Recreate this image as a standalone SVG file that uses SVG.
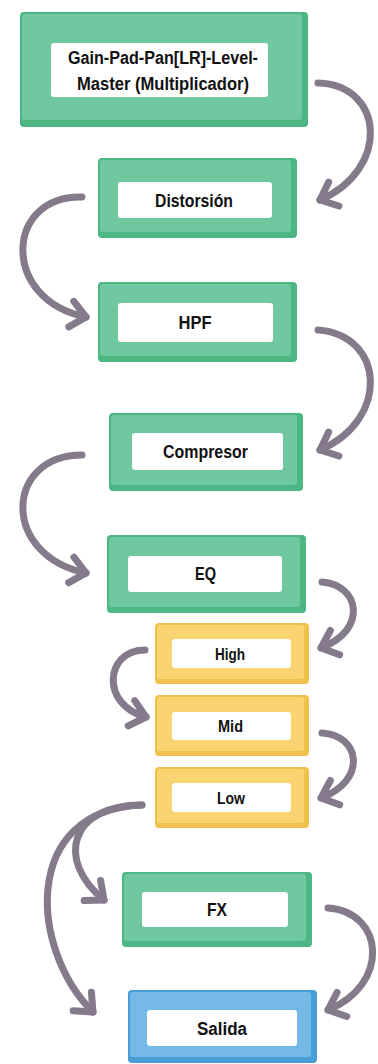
<svg xmlns="http://www.w3.org/2000/svg" width="378" height="1064" viewBox="0 0 378 1064">
<style>
.g0{fill:#4db783}.g1{fill:#6fc8a0}
.y0{fill:#efc04c}.y1{fill:#f9d470}
.b0{fill:#4a9ed8}.b1{fill:#75b9e6}
.in{fill:#ffffff}
.t{font-family:"Liberation Sans",Arial,sans-serif;font-weight:700;fill:#111;text-anchor:middle;font-size:18px}
.s{font-size:16px}
.c{fill:none;stroke:#857a8b;stroke-width:7;stroke-linecap:round}
</style>
<defs>
<marker id="ah" markerUnits="userSpaceOnUse" markerWidth="1" markerHeight="1" refX="0" refY="0" orient="auto" overflow="visible">
<path d="M -15 -13 L 0 0 L -15 13" fill="none" stroke="#857a8b" stroke-width="7" stroke-linecap="round" stroke-linejoin="round"/>
</marker>
</defs>
<g id="connectors">
<path class="c" marker-end="url(#ah)" d="M 318 83 C 385 85, 390 170, 320 200"/>
<path class="c" marker-end="url(#ah)" d="M 82 197 C 5 195, 0 300, 86 317"/>
<path class="c" marker-end="url(#ah)" d="M 318 330 C 385 335, 390 420, 320 450"/>
<path class="c" marker-end="url(#ah)" d="M 82 455 C 5 455, 0 555, 86 573"/>
<path class="c" marker-end="url(#ah)" d="M 322 582 C 360 585, 368 630, 321 648"/>
<path class="c" marker-end="url(#ah)" d="M 145 650 C 105 650, 100 705, 146 717"/>
<path class="c" marker-end="url(#ah)" d="M 322 733 C 360 735, 368 780, 321 798"/>
<path class="c" marker-end="url(#ah)" d="M 142 805 C 70 805, 55 860, 104 900"/>
<path class="c" marker-end="url(#ah)" d="M 142 805 C 20 810, 30 950, 93 1012"/>
<path class="c" marker-end="url(#ah)" d="M 328 908 C 385 912, 390 985, 328 1010"/>
</g>
<g id="n-gain">
<rect class="g0" x="20" y="12" width="288" height="115" rx="4"/>
<rect class="g1" x="22" y="14" width="280" height="106" rx="3"/>
<rect class="in" x="51" y="43" width="217" height="54" rx="3"/>
<text class="t" x="163" y="64" textLength="190" lengthAdjust="spacingAndGlyphs">Gain-Pad-Pan[LR]-Level-</text>
<text class="t" x="163" y="90" textLength="172" lengthAdjust="spacingAndGlyphs">Master (Multiplicador)</text>
</g>
<g id="n-distorsion">
<rect class="g0" x="98" y="158" width="199" height="80" rx="4"/>
<rect class="g1" x="100" y="160" width="191" height="72" rx="3"/>
<rect class="in" x="118" y="182" width="154" height="36" rx="3"/>
<text class="t" x="194" y="207" textLength="78" lengthAdjust="spacingAndGlyphs">Distorsión</text>
</g>
<g id="n-hpf">
<rect class="g0" x="98" y="282" width="199" height="80" rx="4"/>
<rect class="g1" x="100" y="284" width="191" height="72" rx="3"/>
<rect class="in" x="118" y="303" width="155" height="39" rx="3"/>
<text class="t" x="195" y="329" textLength="33" lengthAdjust="spacingAndGlyphs">HPF</text>
</g>
<g id="n-compresor">
<rect class="g0" x="109" y="413" width="194" height="78" rx="4"/>
<rect class="g1" x="111" y="415" width="186" height="70" rx="3"/>
<rect class="in" x="132" y="433" width="151" height="37" rx="3"/>
<text class="t" x="205.5" y="458" textLength="85" lengthAdjust="spacingAndGlyphs">Compresor</text>
</g>
<g id="n-eq">
<rect class="g0" x="107" y="535" width="199" height="78" rx="4"/>
<rect class="g1" x="109" y="537" width="191" height="70" rx="3"/>
<rect class="in" x="128" y="556" width="154" height="36" rx="3"/>
<text class="t" x="205.5" y="580" textLength="21" lengthAdjust="spacingAndGlyphs">EQ</text>
</g>
<g id="n-high">
<rect class="y0" x="155" y="623" width="154" height="61" rx="4"/>
<rect class="y1" x="157" y="625" width="147" height="54" rx="3"/>
<rect class="in" x="172" y="639" width="119" height="29" rx="3"/>
<text class="t s" x="230" y="660" textLength="30" lengthAdjust="spacingAndGlyphs">High</text>
</g>
<g id="n-mid">
<rect class="y0" x="155" y="695" width="154" height="61" rx="4"/>
<rect class="y1" x="157" y="697" width="147" height="54" rx="3"/>
<rect class="in" x="172" y="712" width="119" height="28" rx="3"/>
<text class="t s" x="230.5" y="732" textLength="25" lengthAdjust="spacingAndGlyphs">Mid</text>
</g>
<g id="n-low">
<rect class="y0" x="155" y="767" width="154" height="61" rx="4"/>
<rect class="y1" x="157" y="769" width="147" height="54" rx="3"/>
<rect class="in" x="172" y="783" width="119" height="29" rx="3"/>
<text class="t s" x="231" y="804" textLength="28" lengthAdjust="spacingAndGlyphs">Low</text>
</g>
<g id="n-fx">
<rect class="g0" x="122" y="872" width="190" height="75" rx="4"/>
<rect class="g1" x="124" y="874" width="182" height="67" rx="3"/>
<rect class="in" x="142" y="892" width="146" height="35" rx="3"/>
<text class="t" x="217" y="916" textLength="20" lengthAdjust="spacingAndGlyphs">FX</text>
</g>
<g id="n-salida">
<rect class="b0" x="128" y="990" width="189" height="73" rx="4"/>
<rect class="b1" x="130" y="992" width="181" height="65" rx="3"/>
<rect class="in" x="147" y="1010" width="150" height="36" rx="3"/>
<text class="t" x="222" y="1035" textLength="50" lengthAdjust="spacingAndGlyphs">Salida</text>
</g>
</svg>
